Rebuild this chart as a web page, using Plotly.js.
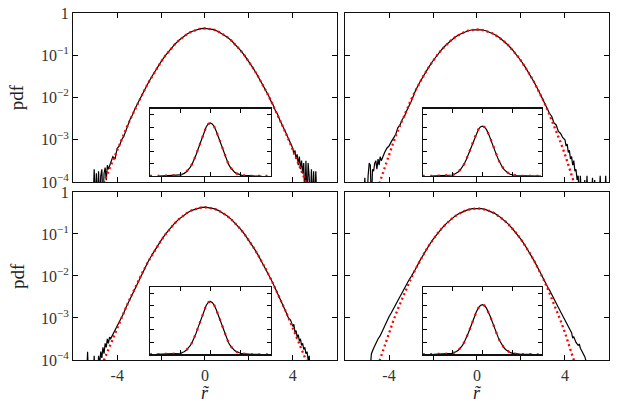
<!DOCTYPE html>
<html><head><meta charset="utf-8">
<script src="https://cdn.plot.ly/plotly-3.0.1.min.js"></script>
<style>html,body{margin:0;padding:0;background:#fff}#chart{width:623px;height:406px}</style>
</head><body><div id="chart"></div>
<script>
// ---------- data ----------
const xCore = [-2.8,-2.6,-2.4,-2.2,-2,-1.8,-1.6,-1.4,-1.2,-1,-0.8,-0.6,-0.4,-0.2,0,0.2,0.4,0.6,0.8,1,1.2,1.4,1.6,1.8,2,2.2,2.4,2.6,2.8];
const pdfCoreLeft = [0.0137,0.0215,0.0328,0.0489,0.0705,0.0989,0.134,0.176,0.223,0.272,0.322,0.366,0.403,0.426,0.434,0.426,0.403,0.366,0.322,0.272,0.223,0.176,0.134,0.0989,0.0705,0.0489,0.0328,0.0215,0.0137];
const pdfCoreRight = [0.01444,0.0229,0.0350,0.0518,0.0741,0.1025,0.1369,0.1768,0.2206,0.2661,0.3101,0.3494,0.3805,0.4005,0.4074,0.4005,0.3805,0.3494,0.3101,0.2661,0.2206,0.1768,0.1369,0.1025,0.0741,0.0518,0.0350,0.0229,0.01444];

// top-left tails
const xTLneg = [-5.1,-5.05,-5,-4.95,-4.9,-4.85,-4.8,-4.75,-4.7,-4.65,-4.6,-4.55,-4.5,-4.45,-4.4,-4.3,-4.2,-4.1,-4,-3.9,-3.8,-3.7,-3.6,-3.5,-3.4,-3.3,-3.2,-3.1,-3,-2.9];
const pdfTLneg = [3.2e-5,2.0e-4,3.2e-5,1.6e-4,3.2e-5,1.8e-4,3.2e-5,1.4e-4,2.0e-4,3.2e-5,1.6e-4,2.2e-4,1.1e-4,2.5e-4,2.0e-4,2.8e-4,4.0e-4,3.5e-4,6.3e-4,7.1e-4,1.0e-3,1.2e-3,1.74e-3,2.29e-3,3.16e-3,3.89e-3,5.25e-3,6.46e-3,8.51e-3,1.07e-2];
const xTLpos = [2.9,3,3.1,3.2,3.3,3.4,3.5,3.6,3.7,3.8,3.9,4,4.05,4.1,4.15,4.2,4.25,4.3,4.35,4.4,4.45,4.5,4.55,4.6,4.65,4.7,4.75,4.8,4.85,4.9,4.95,5,5.05,5.1];
const pdfTLpos = [1.10e-2,8.3e-3,6.76e-3,5.0e-3,4.07e-3,3.02e-3,2.4e-3,1.78e-3,1.41e-3,1.07e-3,7.9e-4,6.3e-4,4.5e-4,5.6e-4,3.5e-4,4.5e-4,2.5e-4,4.0e-4,2.0e-4,3.2e-4,1.6e-4,2.8e-4,3.2e-5,3.2e-4,3.2e-5,2.8e-4,1.26e-4,3.2e-5,2.0e-4,3.2e-5,1.8e-4,3.2e-5,1.8e-4,3.2e-5];

// top-right tails
const xTRneg = [-5.15,-5.1,-5.05,-5,-4.95,-4.9,-4.85,-4.8,-4.75,-4.7,-4.65,-4.6,-4.55,-4.5,-4.45,-4.4,-4.35,-4.3,-4.2,-4.1,-4,-3.9,-3.8,-3.7,-3.6,-3.5,-3.4,-3.3,-3.2,-3.1,-3,-2.9];
const pdfTRneg = [3.2e-5,1.26e-4,3.2e-5,3.2e-5,1.41e-4,2.8e-4,2.5e-4,3.2e-5,2.0e-4,1.8e-4,2.8e-4,3.2e-4,2.0e-4,3.5e-4,2.5e-4,4.0e-4,3.2e-4,3.8e-4,5.0e-4,6.3e-4,7.1e-4,8.9e-4,1.12e-3,1.32e-3,1.91e-3,2.24e-3,3.02e-3,3.55e-3,4.79e-3,6.03e-3,7.94e-3,1.05e-2];
const xTRpos = [2.9,3,3.1,3.2,3.3,3.4,3.5,3.6,3.7,3.8,3.9,4,4.05,4.1,4.15,4.2,4.25,4.3,4.35,4.4,4.45,4.5,4.55,4.6,4.65,4.7,4.75,4.85,4.9,4.95,5,5.05,5.2,5.25,5.3,5.35,5.4,5.55,5.6,5.65,5.8,5.85,5.9];
const pdfTRpos = [1.12e-2,8.71e-3,6.76e-3,5.62e-3,4.17e-3,3.55e-3,2.51e-3,2.24e-3,1.58e-3,1.41e-3,1.12e-3,1.0e-3,7.1e-4,7.9e-4,5.0e-4,5.6e-4,3.5e-4,4.0e-4,2.5e-4,3.2e-4,1.8e-4,2.0e-4,1.12e-4,1.41e-4,3.2e-5,1.41e-4,3.2e-5,3.2e-5,1.12e-4,3.2e-5,1.41e-4,3.2e-5,3.2e-5,1.26e-4,3.2e-5,1.12e-4,3.2e-5,3.2e-5,1.41e-4,3.2e-5,3.2e-5,1.41e-4,3.2e-5];

// bottom-left tails
const xBLneg = [-5.4,-5.35,-5.3,-5.1,-5.05,-5,-4.9,-4.85,-4.8,-4.75,-4.7,-4.65,-4.6,-4.55,-4.5,-4.45,-4.4,-4.35,-4.3,-4.2,-4.1,-4,-3.9,-3.8,-3.7,-3.6,-3.5,-3.4,-3.3,-3.2,-3.1,-3,-2.9];
const pdfBLneg = [3.2e-5,1.58e-4,3.2e-5,3.2e-5,1.26e-4,3.2e-5,3.2e-5,1.26e-4,7.9e-5,1.58e-4,1.12e-4,2.0e-4,1.41e-4,2.5e-4,2.0e-4,3.2e-4,2.5e-4,3.5e-4,3.2e-4,4.0e-4,5.0e-4,6.3e-4,7.9e-4,1.05e-3,1.32e-3,1.78e-3,2.29e-3,3.02e-3,3.98e-3,5.13e-3,6.61e-3,8.51e-3,1.07e-2];
const xBLpos = [2.9,3,3.1,3.2,3.3,3.4,3.5,3.6,3.7,3.8,3.9,4,4.05,4.1,4.15,4.2,4.25,4.3,4.35,4.4,4.45,4.5,4.55,4.6,4.65,4.7,4.75,4.8,4.85];
const pdfBLpos = [1.10e-2,8.51e-3,6.61e-3,5.13e-3,3.98e-3,3.02e-3,2.29e-3,1.78e-3,1.35e-3,1.0e-3,8.9e-4,6.3e-4,7.1e-4,4.5e-4,5.0e-4,3.5e-4,4.0e-4,2.8e-4,3.2e-4,2.24e-4,2.5e-4,1.78e-4,2.0e-4,1.41e-4,1.58e-4,1.0e-4,1.26e-4,3.2e-5,3.2e-5];

// bottom-right tails
const xBRneg = [-4.9,-4.85,-4.8,-4.7,-4.6,-4.5,-4.4,-4.3,-4.2,-4.1,-4,-3.9,-3.8,-3.7,-3.6,-3.5,-3.4,-3.3,-3.2,-3.1,-3,-2.9];
const pdfBRneg = [3.2e-5,8.9e-5,1.41e-4,1.91e-4,2.51e-4,3.16e-4,3.8e-4,5.0e-4,6.0e-4,8.3e-4,1.07e-3,1.32e-3,1.66e-3,2.09e-3,2.63e-3,3.31e-3,4.17e-3,5.25e-3,6.46e-3,7.94e-3,9.55e-3,1.15e-2];
const xBRpos = [2.9,3,3.1,3.2,3.3,3.4,3.5,3.6,3.7,3.8,3.9,4,4.1,4.2,4.3,4.35,4.4,4.5,4.6,4.65,4.7,4.8,4.9,5,5.05];
const pdfBRpos = [1.12e-2,9.12e-3,7.24e-3,5.62e-3,4.57e-3,3.55e-3,2.82e-3,2.24e-3,1.78e-3,1.41e-3,1.12e-3,8.9e-4,7.1e-4,5.25e-4,4.47e-4,3.31e-4,3.55e-4,2.63e-4,2.24e-4,2.4e-4,1.91e-4,1.51e-4,1.2e-4,7.9e-5,3.2e-5];

// red dotted reference curves
const xRedLeft = [-6,-5.5,-5,-4.8,-4.6,-4.4,-4.2,-4,-3.8,-3.6,-3.4,-3.2,-3,-2.8,-2.6,-2.4,-2.2,-2,-1.8,-1.6,-1.4,-1.2,-1,-0.8,-0.6,-0.4,-0.2,0,0.2,0.4,0.6,0.8,1,1.2,1.4,1.6,1.8,2,2.2,2.4,2.6,2.8,3,3.2,3.4,3.6,3.8,4,4.2,4.4,4.6,4.8,5,5.5,6];
const pdfRedLeft = [1.7e-6,7e-6,3.03e-5,5.5e-5,1.0e-4,1.81e-4,3.26e-4,5.82e-4,1.03e-3,1.79e-3,3.07e-3,5.15e-3,8.49e-3,1.368e-2,2.15e-2,3.28e-2,4.89e-2,7.05e-2,9.89e-2,0.134,0.1758,0.2228,0.2723,0.3221,0.3664,0.4027,0.4256,0.4335,0.4256,0.4027,0.3664,0.3221,0.2723,0.2228,0.1758,0.134,9.89e-2,7.05e-2,4.89e-2,3.28e-2,2.15e-2,1.368e-2,8.49e-3,5.15e-3,3.07e-3,1.79e-3,1.03e-3,5.82e-4,3.26e-4,1.81e-4,1.0e-4,5.5e-5,3.03e-5,7e-6,1.7e-6];
const xRedRight = [-6,-5.5,-4.8,-4.6,-4.4,-4.2,-4,-3.8,-3.6,-3.4,-3.2,-3,-2.8,-2.6,-2.4,-2.2,-2,-1.8,-1.6,-1.4,-1.2,-1,-0.8,-0.6,-0.4,-0.2,0,0.2,0.4,0.6,0.8,1,1.2,1.4,1.6,1.8,2,2.2,2.4,2.6,2.8,3,3.2,3.4,3.6,3.8,4,4.2,4.4,4.6,4.8,5.5,6];
const pdfRedRight = [1e-7,1e-6,2.23e-5,4.96e-5,1.07e-4,2.22e-4,4.47e-4,8.68e-4,1.63e-3,2.96e-3,5.19e-3,8.81e-3,1.444e-2,2.29e-2,3.50e-2,5.18e-2,7.41e-2,0.1025,0.1369,0.1768,0.2206,0.2661,0.3101,0.3494,0.3805,0.4005,0.4074,0.4005,0.3805,0.3494,0.3101,0.2661,0.2206,0.1768,0.1369,0.1025,7.41e-2,5.18e-2,3.50e-2,2.29e-2,1.444e-2,8.81e-3,5.19e-3,2.96e-3,1.63e-3,8.68e-4,4.47e-4,2.22e-4,1.07e-4,4.96e-5,2.23e-5,1e-6,1e-7];

// ticks
const xTickVals = [-4,-2,0,2,4];
const xTickText = ['-4','','0','','4'];
const yTickVals = [1e-4,1e-3,1e-2,1e-1,1];
const yTickText = ['10<sup>\u22124</sup>','10<sup>\u22123</sup>','10<sup>\u22122</sup>','10<sup>\u22121</sup>','1'];
const insetXTicks = [-3,0,3];
const insetYTicks = [0.1,0.2,0.3,0.4,0.5];

// ---------- build ----------
const panels = [
  {x: xTLneg.concat(xCore, xTLpos), y: pdfTLneg.concat(pdfCoreLeft, pdfTLpos), rx: xRedLeft, ry: pdfRedLeft},
  {x: xTRneg.concat(xCore, xTRpos), y: pdfTRneg.concat(pdfCoreRight, pdfTRpos), rx: xRedRight, ry: pdfRedRight},
  {x: xBLneg.concat(xCore, xBLpos), y: pdfBLneg.concat(pdfCoreLeft, pdfBLpos), rx: xRedLeft, ry: pdfRedLeft},
  {x: xBRneg.concat(xCore, xBRpos), y: pdfBRneg.concat(pdfCoreRight, pdfBRpos), rx: xRedRight, ry: pdfRedRight}
];

const FONT = 'Liberation Serif, Times New Roman, serif';
const colX = [[0.1177,0.5404],[0.5538,0.9775]];
const rowY = [[0.5517,0.9680],[0.1133,0.5271]];
const insX = [[0.2408,0.4342],[0.6785,0.8700]];
const insY = [[0.5665,0.7323],[0.1273,0.2924]];

const traces = [];
const layout = {
  width:623, height:406, margin:{l:0,r:0,t:0,b:0},
  paper_bgcolor:'#fff', plot_bgcolor:'rgba(0,0,0,0)', showlegend:false,
  font:{family:FONT, color:'#222'},
  annotations:[]
};
function sfx(n){ return n===1 ? '' : String(n); }

panels.forEach((p,i)=>{
  const col = i%2, row = Math.floor(i/2);
  const m = i+1, n = i+5;
  traces.push({x:p.x, y:p.y, xaxis:'x'+sfx(m), yaxis:'y'+sfx(m), type:'scatter', mode:'lines',
    line:{color:'#000', width:1.2}, hoverinfo:'skip'});
  traces.push({x:p.rx, y:p.ry, xaxis:'x'+sfx(m), yaxis:'y'+sfx(m), type:'scatter', mode:'lines',
    line:{color:'#ff0000', width:2.3, dash:'2px,3px'}, hoverinfo:'skip'});
  traces.push({x:p.x, y:p.y, xaxis:'x'+n, yaxis:'y'+n, type:'scatter', mode:'lines',
    line:{color:'#000', width:1.2}, hoverinfo:'skip'});
  traces.push({x:p.rx, y:p.ry, xaxis:'x'+n, yaxis:'y'+n, type:'scatter', mode:'lines',
    line:{color:'#ff0000', width:2.3, dash:'2px,5.5px'}, hoverinfo:'skip'});

  layout['xaxis'+sfx(m)] = {domain:colX[col], anchor:'y'+sfx(m), range:[-6,6],
    tickmode:'array', tickvals:xTickVals, ticktext:xTickText, showticklabels: row===1,
    ticks:'inside', ticklen:5, tickwidth:1, tickcolor:'#000',
    showline:true, linecolor:'#111', linewidth:1.3, mirror:'ticks',
    showgrid:false, zeroline:false, tickfont:{family:FONT, size:16, color:'#333'}};
  layout['yaxis'+sfx(m)] = {domain:rowY[row], anchor:'x'+sfx(m), type:'log', range:[-4,0],
    tickmode:'array', tickvals:yTickVals, ticktext:yTickText, showticklabels: col===0,
    ticks:'inside', ticklen:5, tickwidth:1, tickcolor:'#000',
    showline:true, linecolor:'#111', linewidth:1.3, mirror:'ticks',
    showgrid:false, zeroline:false, tickfont:{family:FONT, size:16, color:'#333'}};
  layout['xaxis'+n] = {domain:insX[col], anchor:'y'+n, range:[-6,6],
    tickmode:'array', tickvals:insetXTicks, showticklabels:false,
    ticks:'inside', ticklen:4, tickwidth:1, tickcolor:'#000',
    showline:true, linecolor:'#111', linewidth:1.2, mirror:'ticks',
    showgrid:false, zeroline:false};
  layout['yaxis'+n] = {domain:insY[row], anchor:'x'+n, range:[0,0.55],
    tickmode:'array', tickvals:insetYTicks, showticklabels:false,
    ticks:'inside', ticklen:4, tickwidth:1, tickcolor:'#000',
    showline:true, linecolor:'#111', linewidth:1.2, mirror:'ticks',
    showgrid:false, zeroline:false};
});

[0.760, 0.320].forEach(yy=>{
  layout.annotations.push({text:'pdf', xref:'paper', yref:'paper', x:0.027, y:yy,
    xanchor:'center', yanchor:'middle', textangle:-90, showarrow:false,
    font:{family:FONT, size:19, color:'#222'}});
});
[0.330, 0.766].forEach(xx=>{
  layout.annotations.push({text:'<i>r\u0303</i>', xref:'paper', yref:'paper', x:xx, y:0.032,
    xanchor:'center', yanchor:'middle', showarrow:false,
    font:{family:FONT, size:18, color:'#222'}});
});

Plotly.newPlot('chart', traces, layout, {staticPlot:true, displayModeBar:false});
</script>
</body></html>
